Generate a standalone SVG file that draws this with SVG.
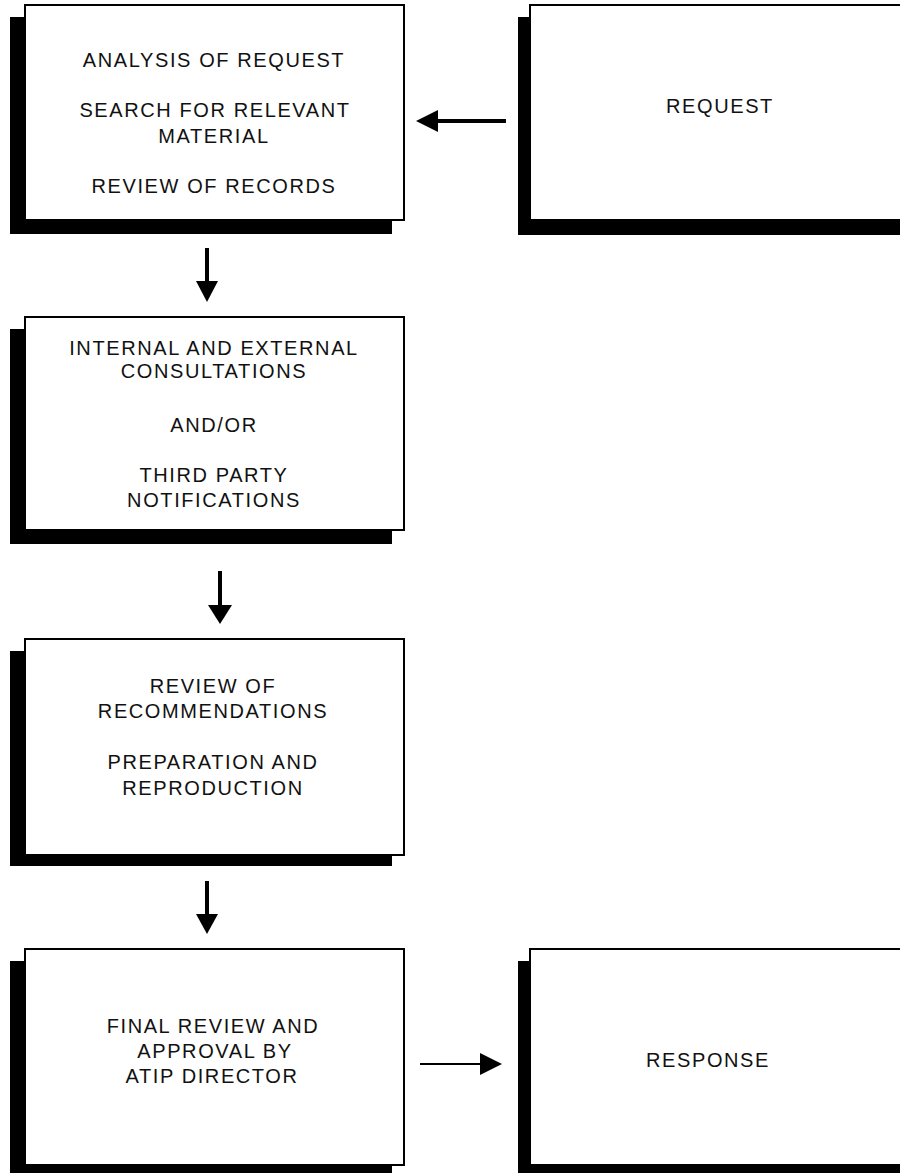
<svg xmlns="http://www.w3.org/2000/svg" width="900" height="1173" viewBox="0 0 900 1173">
<style>
.shadow{fill:#000}
.box{fill:#fff;stroke:#000;stroke-width:2}
.lbl{font-family:"Liberation Sans",Arial,sans-serif;font-size:20px;letter-spacing:1.6px;fill:#111;text-anchor:middle}
.thick{stroke:#000;stroke-width:4;fill:none}
.thin{stroke:#000;stroke-width:2;fill:none}
.head{fill:#000}
</style>
<rect width="900" height="1173" fill="#fff"/>
<g id="node-analysis">
<rect class="shadow" x="10" y="17" width="382" height="217"/>
<rect class="box" x="25" y="5" width="379" height="215"/>
<text class="lbl" x="214" y="67">ANALYSIS OF REQUEST</text>
<text class="lbl" x="215" y="117">SEARCH FOR RELEVANT</text>
<text class="lbl" x="214" y="143">MATERIAL</text>
<text class="lbl" x="214" y="193">REVIEW OF RECORDS</text>
</g>
<g id="node-request">
<rect class="shadow" x="518" y="17" width="400" height="218"/>
<rect class="box" x="530" y="5" width="400" height="215"/>
<text class="lbl" x="720" y="113">REQUEST</text>
</g>
<g id="node-consultations">
<rect class="shadow" x="10" y="329" width="382" height="215"/>
<rect class="box" x="25" y="317" width="379" height="213"/>
<text class="lbl" x="214" y="355">INTERNAL AND EXTERNAL</text>
<text class="lbl" x="214" y="378">CONSULTATIONS</text>
<text class="lbl" x="214" y="432">AND/OR</text>
<text class="lbl" x="214" y="482">THIRD PARTY</text>
<text class="lbl" x="214" y="507">NOTIFICATIONS</text>
</g>
<g id="node-review">
<rect class="shadow" x="10" y="651" width="382" height="215"/>
<rect class="box" x="25" y="639" width="379" height="216"/>
<text class="lbl" x="213" y="693">REVIEW OF</text>
<text class="lbl" x="213" y="718">RECOMMENDATIONS</text>
<text class="lbl" x="213" y="769">PREPARATION AND</text>
<text class="lbl" x="213" y="795">REPRODUCTION</text>
</g>
<g id="node-final">
<rect class="shadow" x="10" y="961" width="382" height="220"/>
<rect class="box" x="25" y="949" width="379" height="216"/>
<text class="lbl" x="213" y="1033">FINAL REVIEW AND</text>
<text class="lbl" x="215" y="1058">APPROVAL BY</text>
<text class="lbl" x="212" y="1083">ATIP DIRECTOR</text>
</g>
<g id="node-response">
<rect class="shadow" x="518" y="961" width="400" height="220"/>
<rect class="box" x="530" y="949" width="400" height="216"/>
<text class="lbl" x="708" y="1067">RESPONSE</text>
</g>
<g id="connectors">
<line class="thick" x1="506" y1="121" x2="436" y2="121"/>
<polygon class="head" points="416,121 438,110 438,132"/>
<line class="thick" x1="207" y1="248" x2="207" y2="283"/>
<polygon class="head" points="196,281 218,281 207,302"/>
<line class="thick" x1="220" y1="571" x2="220" y2="607"/>
<polygon class="head" points="208,605 232,605 220,624"/>
<line class="thick" x1="207" y1="881" x2="207" y2="916"/>
<polygon class="head" points="196,914 218,914 207,934"/>
<line class="thin" x1="420" y1="1064" x2="482" y2="1064"/>
<polygon class="head" points="480,1053 502,1064 480,1075"/>
</g>
</svg>
